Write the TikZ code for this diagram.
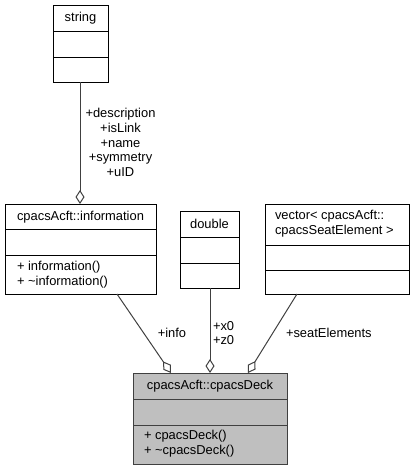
\documentclass[tikz,border=0pt]{standalone}
\usepackage{fontspec}
\setmainfont{Liberation Sans}
\usetikzlibrary{arrows.meta}
\begin{document}
\begin{tikzpicture}[x=1pt,y=-1pt,
  every node/.style={font=\fontsize{12.9}{14.8}\selectfont, inner sep=0pt, outer sep=0pt},
  cls/.style={draw=black, line width=1pt, rectangle, fill=white},
  divider/.style={line width=1pt, draw=black},
  conn/.style={draw=black!75, line width=1pt},
  agg/.style={conn, {Diamond[fill=white, length=14pt, width=9pt, line width=1pt]}-},
  lbl/.style={text=black}
]
\useasboundingbox (0,0) rectangle (414,471);
% string
\node[cls, minimum width=55pt, minimum height=77pt] (string) at (80.5,43.5) {};
\draw[divider] (53,31) -- (108,31);
\draw[divider] (53,57) -- (108,57);
\node (stringT) at (80.5,18) {string};
% information
\node[cls, minimum width=151pt, minimum height=90pt] (info) at (80.5,249) {};
\draw[divider] (5,229) -- (156,229);
\draw[divider] (5,255) -- (156,255);
\node (infoT) at (80.5,217) {cpacsAcft::information};
\node[anchor=west, align=left] (infoM) at (17,274.5) {+ information()\\+ \textasciitilde information()};
% double
\node[cls, minimum width=59pt, minimum height=77pt] (double) at (209.5,249.5) {};
\draw[divider] (180,237) -- (239,237);
\draw[divider] (180,263) -- (239,263);
\node (doubleT) at (209.5,224) {double};
% vector
\node[cls, minimum width=144pt, minimum height=90pt] (vector) at (337,249) {};
\draw[divider] (265,245) -- (409,245);
\draw[divider] (265,270) -- (409,270);
\node[anchor=west, align=left] (vectorT) at (275,224) {vector\textless{} cpacsAcft::\\cpacsSeatElement \textgreater};
% deck
\node[cls, fill=black!25, draw=black!75, minimum width=154pt, minimum height=91pt] (deck) at (210,418.5) {};
\draw[divider, draw=black!75] (133,399) -- (287,399);
\draw[divider, draw=black!75] (133,425) -- (287,425);
\node (deckT) at (210,386) {cpacsAcft::cpacsDeck};
\node[anchor=west, align=left] (deckM) at (144,444) {+ cpacsDeck()\\+ \textasciitilde cpacsDeck()};
% connector end points
\coordinate (s1) at (80,82);
\coordinate (s2) at (80,204);
\coordinate (i1) at (117,294);
\coordinate (i2) at (171,373);
\coordinate (d1) at (210,288);
\coordinate (d2) at (210,373);
\coordinate (v1) at (297,294);
\coordinate (v2) at (248,373);
\draw[agg] (s2) -- (s1);
\draw[agg] (i2) -- (i1);
\draw[agg] (d2) -- (d1);
\draw[agg] (v2) -- (v1);
% labels
\node[lbl, align=center] (sl) at (120.5,142.5) {+description\\+isLink\\+name\\+symmetry\\+uID};
\node[lbl] (il) at (172,333) {+info};
\node[lbl, anchor=west, align=left] (dl) at (213,333) {+x0\\+z0};
\node[lbl, anchor=west] (vl) at (286,333) {+seatElements};
\end{tikzpicture}
\end{document}
